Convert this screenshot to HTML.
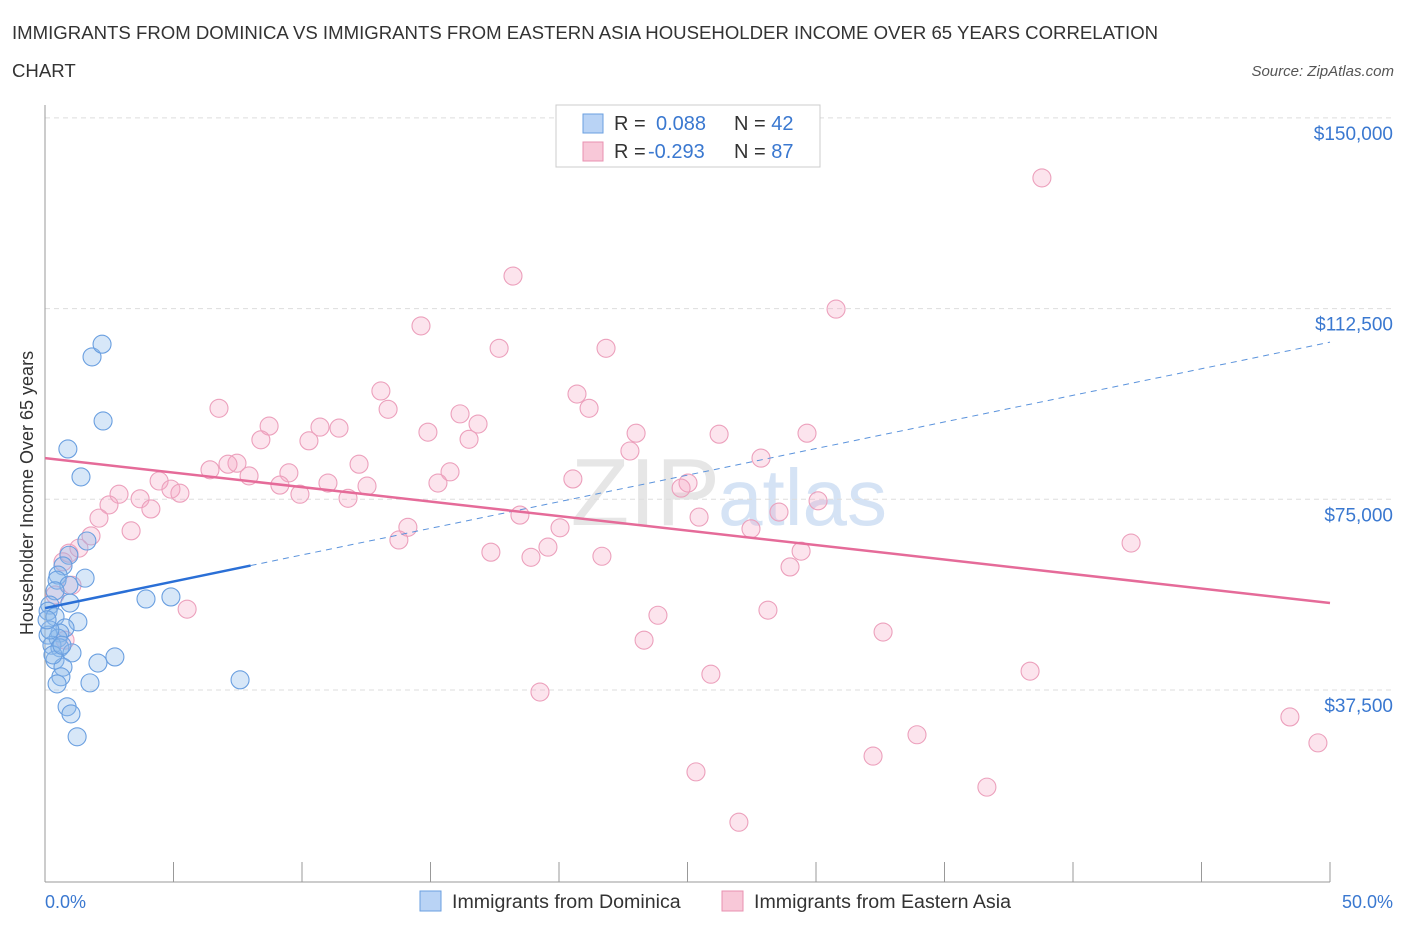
<!DOCTYPE html>
<html><head><meta charset="utf-8"><style>
body{margin:0;background:#fff;font-family:"Liberation Sans",sans-serif;}
svg text{font-family:"Liberation Sans",sans-serif;}
</style></head><body>
<svg id="chart" width="1406" height="930" xmlns="http://www.w3.org/2000/svg">
<text x="12" y="39" font-size="18.6" fill="#333">IMMIGRANTS FROM DOMINICA VS IMMIGRANTS FROM EASTERN ASIA HOUSEHOLDER INCOME OVER 65 YEARS CORRELATION</text>
<text x="12" y="77" font-size="18.6" fill="#333">CHART</text>
<text x="1394" y="76" font-size="15" fill="#555" font-style="italic" text-anchor="end">Source: ZipAtlas.com</text>
<text x="720" y="525" font-size="96" fill="#e6e6e6" text-anchor="end" font-family="Liberation Serif">ZIP</text>
<text x="718" y="525" font-size="80" fill="#d5e3f5">atlas</text>
<g id="grid"></g><g id="axes"></g><g id="pts"></g><g id="trend"></g>
<text transform="translate(33,493) rotate(-90)" font-size="18" fill="#333" text-anchor="middle">Householder Income Over 65 years</text>
<text x="45" y="908" font-size="18" fill="#3a78d0">0.0%</text>
<text x="1393" y="908" font-size="18" fill="#3a78d0" text-anchor="end">50.0%</text>
<g>
<rect x="556" y="105" width="264" height="62" fill="#fff" stroke="#ccc"/>
<rect x="583" y="114" width="20" height="19" fill="#b9d3f5" stroke="#6a9fe0"/>
<rect x="583" y="142" width="20" height="19" fill="#f8c8d8" stroke="#e891b0"/>
<text x="614" y="130" font-size="20" fill="#333">R = <tspan fill="#3a78d0" x="656">0.088</tspan><tspan x="734" fill="#333">N = </tspan><tspan fill="#3a78d0">42</tspan></text>
<text x="614" y="158" font-size="20" fill="#333">R = <tspan fill="#3a78d0" x="648">-0.293</tspan><tspan x="734" fill="#333">N = </tspan><tspan fill="#3a78d0">87</tspan></text>
</g>
<g>
<rect x="420" y="891" width="21" height="20" fill="#b9d3f5" stroke="#6a9fe0"/>
<text x="452" y="908" font-size="19.6" fill="#333">Immigrants from Dominica</text>
<rect x="722" y="891" width="21" height="20" fill="#f8c8d8" stroke="#e891b0"/>
<text x="754" y="908" font-size="19.6" fill="#333">Immigrants from Eastern Asia</text>
</g>
</svg>
<script>
const yTicks=[37500,75000,112500,150000];
const yTickLabels=["$37,500","$75,000","$112,500","$150,000"];
const xTicks=[0,5,10,15,20,25,30,35,40,45,50];
const blueX=[1.83,2.22,2.26,0.89,1.40,1.63,0.93,0.70,1.56,0.51,0.47,0.93,0.39,0.97,0.19,0.12,1.28,0.39,0.78,0.58,0.12,0.51,0.27,0.58,1.05,0.39,0.70,2.06,2.72,0.62,1.75,0.47,0.86,1.01,1.25,3.93,4.90,7.59,0.19,0.08,0.31,0.66];
const blueY=[103.0,105.5,90.4,84.9,79.4,66.8,64.0,61.9,59.5,60.1,59.1,58.1,57.0,54.6,54.2,53.0,50.9,51.9,49.7,48.7,48.3,47.7,46.3,45.8,44.8,43.4,42.0,42.8,44.0,40.1,38.9,38.7,34.2,32.8,28.3,55.4,55.8,39.5,49.3,51.3,44.4,46.3];
const pinkX=[38.79,18.21,30.78,14.63,17.67,21.83,13.07,20.70,6.77,13.35,21.17,16.15,8.72,16.85,10.70,11.44,14.90,16.50,23.00,26.23,29.65,8.40,10.27,22.76,27.86,12.22,6.42,7.47,7.12,15.76,9.49,7.94,4.44,15.29,20.54,9.14,11.01,12.53,4.90,5.25,2.88,3.70,11.79,9.92,2.49,25.02,24.75,30.08,4.12,2.10,18.48,28.56,25.45,3.35,14.12,20.04,27.47,13.77,19.57,42.26,1.79,17.35,18.91,21.67,29.42,28.99,0.93,1.32,0.70,1.05,0.39,5.53,23.85,28.13,32.61,23.31,38.33,25.91,19.26,33.93,48.44,49.53,32.22,25.33,36.65,27.00,0.78];
const pinkY=[138.2,118.9,112.4,109.1,104.7,104.7,96.3,95.7,92.9,92.7,92.9,91.8,89.4,89.8,89.2,89.0,88.2,86.8,88.0,87.8,88.0,86.7,86.5,84.5,83.1,81.9,80.8,82.1,81.9,80.4,80.2,79.6,78.6,78.2,79.0,77.8,78.2,77.6,77.0,76.2,76.0,75.1,75.2,76.0,73.9,78.2,77.2,74.7,73.1,71.3,71.9,72.5,71.5,68.8,69.5,69.4,69.2,67.0,65.6,66.4,67.8,64.6,63.6,63.8,64.8,61.7,64.4,65.4,62.7,58.1,56.2,53.4,52.2,53.2,48.9,47.3,41.2,40.6,37.1,28.7,32.2,27.1,24.5,21.4,18.4,11.5,47.3];
const blueTrend=[53.6,105.9];
const pinkTrend=[83.1,54.6];
const NS="http://www.w3.org/2000/svg";
function xs(v){return 45+v/50*1285;}
function ys(v){return 690-(v-37500)/37500*190.7;}
function mk(t,a,p){const e=document.createElementNS(NS,t);for(const k in a)e.setAttribute(k,a[k]);p.appendChild(e);return e;}
const grid=document.getElementById('grid'),axes=document.getElementById('axes'),pts=document.getElementById('pts'),tr=document.getElementById('trend');
yTicks.forEach((t,i)=>{
 const l=mk('line',{x1:45,x2:1393,y1:ys(t),y2:ys(t),stroke:'#ddd','stroke-dasharray':'5,4'},grid);
 
 
 const tx=mk('text',{x:1393,y:ys(t)+22,'font-size':19,fill:'#3a78d0','text-anchor':'end'},grid);
 tx.textContent=yTickLabels[i];
 
 
});
const ya=mk('line',{x1:45,x2:45,y1:105,y2:882,stroke:'#999'},axes);


const xa=mk('line',{x1:45,x2:1330,y1:882,y2:882,stroke:'#999'},axes);


xTicks.forEach(t=>{
 const l=mk('line',{x1:xs(t),x2:xs(t),y1:862,y2:882,stroke:'#999'},axes);
 
 
});
function dots(X,Y,fill,stroke,name){
 X.forEach((x,i)=>{
  const c=mk('circle',{cx:xs(x),cy:ys(Y[i]*1000),r:9,fill:fill,stroke:stroke,'stroke-width':1.1},pts);
  
  
 });
}
dots(pinkX,pinkY,'rgba(244,165,195,0.3)','#eca0bc','point-eastern-asia');
dots(blueX,blueY,'rgba(140,185,235,0.35)','#6a9fe0','point-dominica');
const ySlopeB=(blueTrend[1]-blueTrend[0])/50;
const b1=mk('line',{x1:xs(0),y1:ys(blueTrend[0]*1000),x2:xs(8),y2:ys((blueTrend[0]+ySlopeB*8)*1000),stroke:'#2a6fd6','stroke-width':2.5},tr);


const b2=mk('line',{x1:xs(8),y1:ys((blueTrend[0]+ySlopeB*8)*1000),x2:xs(50),y2:ys(blueTrend[1]*1000),stroke:'#5b93dc','stroke-width':1,'stroke-dasharray':'6,5'},tr);


const p1=mk('line',{x1:xs(0),y1:ys(pinkTrend[0]*1000),x2:xs(50),y2:ys(pinkTrend[1]*1000),stroke:'#e56b99','stroke-width':2.5},tr);


</script>
</body></html>
